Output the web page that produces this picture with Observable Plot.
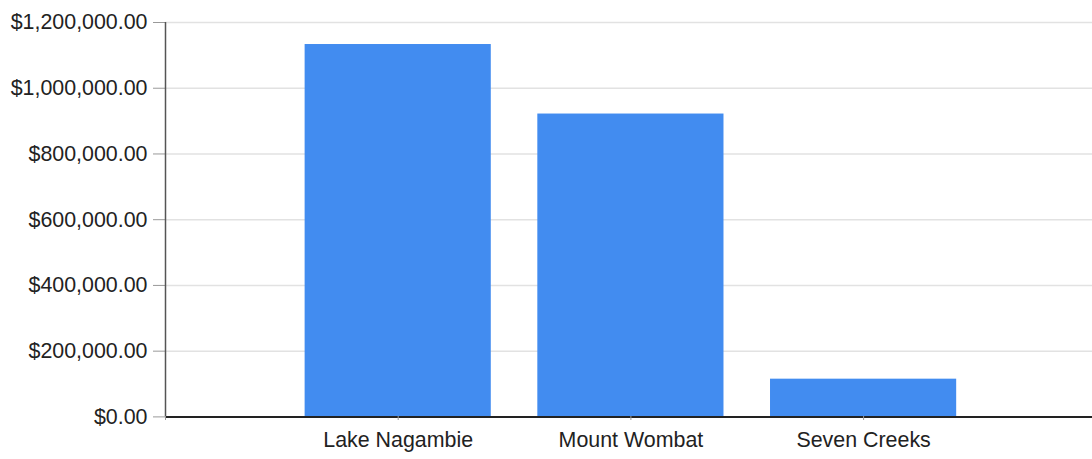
<!DOCTYPE html>
<html>
<head>
<meta charset="utf-8">
<script src="https://cdn.jsdelivr.net/npm/d3@7"></script>
<script src="https://cdn.jsdelivr.net/npm/@observablehq/plot@0.6"></script>
<style>
  html, body { margin: 0; padding: 0; background: #fff; }
</style>
</head>
<body>
<div id="chart"></div>
<script>
const categories = ["Lake Nagambie", "Mount Wombat", "Seven Creeks"];
const values = [1133000, 921500, 114800];
const yTicks = [0, 200000, 400000, 600000, 800000, 1000000, 1200000];

const data = categories.map((name, i) => ({ name, pos: i + 1, value: values[i] }));

const chart = Plot.plot({
  width: 1092,
  height: 459,
  marginLeft: 165,
  marginRight: 0,
  marginTop: 22,
  marginBottom: 43,
  style: { fontFamily: "'Liberation Sans', Arial, sans-serif", fontSize: "21.4px", color: "#222", background: "#fff" },
  x: { domain: [0, 4], range: [165, 1095.8], axis: null },
  y: { domain: [0, 1200000], range: [416.4, 22], axis: null },
  marks: [
    Plot.ruleY(yTicks.slice(1), { stroke: "#e2e2e2", strokeWidth: 1.5 }),
    Plot.rectY(data, { x1: d => d.pos - 0.4, x2: d => d.pos + 0.4, y: "value", fill: "#428cf0" }),
    Plot.axisY({ ticks: yTicks, tickFormat: d3.format("$,.2f"), tickSize: 12, tickPadding: 6, stroke: "#999", fill: "#222", label: null }),
    Plot.ruleX([0], { y1: 0, y2: 1200000, stroke: "#555", strokeWidth: 1.5 }),
    Plot.ruleY([0], { stroke: "#222", strokeWidth: 2 }),
    Plot.axisX({ ticks: [0, 1, 2, 3], tickFormat: i => i === 0 ? "" : categories[i - 1], tickSize: 4, tickPadding: 11, stroke: "#999", fill: "#222", label: null })
  ]
});
document.getElementById("chart").appendChild(chart);
</script>
</body>
</html>
